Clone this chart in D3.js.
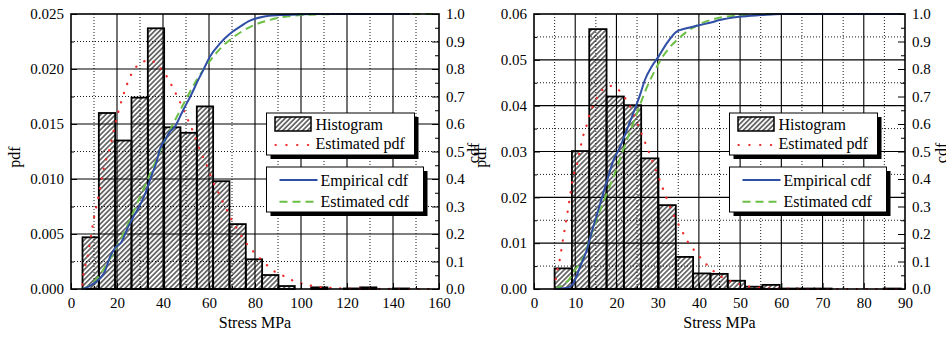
<!DOCTYPE html>
<html><head><meta charset="utf-8">
<script src="https://cdn.jsdelivr.net/npm/d3@7"></script>
<style>
html,body{margin:0;padding:0;background:#fff;}
svg{display:block;}
svg text{font-family:"Liberation Serif","Times New Roman",serif !important;fill:#000;}
</style></head><body>
<svg id="chart" width="946" height="337"></svg>
<script>
// ---------- LEFT PANEL DATA ----------
const leftBinEdges = [5, 12.1, 19.2, 26.3, 33.4, 40.5, 47.6, 54.7, 61.8, 68.9, 76, 83.1, 90.2, 97.3, 104.4, 111.5, 118.6, 125.7, 132.8, 139.9, 147.0, 154.1];
const leftHistPdf = [0.0047, 0.0160, 0.0135, 0.0174, 0.0237, 0.0147, 0.0142, 0.0166, 0.0098, 0.0059, 0.0027, 0.00127, 0.00027, 0, 0.00015, 0, 0.00005, 0.00015, 0, 0.00005, 0];
const leftPdfX = [5, 5.2, 7.1, 8.6, 10.1, 11.9, 14.5, 17, 19.1, 22.7, 26.4, 30, 34.3, 38.7, 42, 44.5, 46.7, 50.6, 52.5, 56.1, 59.7, 61.4, 63.6, 65.8, 68, 70.1, 72.7, 75.7, 79.3, 83.6, 87.7, 92.3, 96.7, 101, 105.4, 110, 120, 130, 140, 150, 160];
const leftPdfY = [0.0004, 0.0010, 0.0028, 0.0047, 0.0066, 0.0084, 0.0112, 0.0129, 0.0149, 0.0176, 0.0196, 0.0205, 0.0208, 0.0201, 0.0192, 0.0182, 0.0173, 0.0155, 0.0146, 0.0126, 0.0109, 0.0099, 0.0090, 0.0080, 0.0071, 0.0062, 0.0053, 0.0043, 0.0034, 0.0025, 0.0017, 0.0012, 0.00075, 0.00045, 0.00027, 0.00015, 0.00005, 0.00002, 0.00001, 0, 0];
const leftEcdfX = [5, 8.3, 12.6, 14.5, 17, 19.1, 22, 24.9, 27.1, 30, 32.9, 35.1, 37.3, 38.7, 40.9, 43, 45.2, 47.4, 48.8, 52.5, 55, 57.5, 60.4, 64.8, 69.1, 73.5, 77.8, 83.6, 90.9, 100, 105, 147.4];
const leftEcdfY = [0, 0.011, 0.039, 0.06, 0.117, 0.148, 0.172, 0.227, 0.263, 0.305, 0.36, 0.415, 0.465, 0.51, 0.542, 0.572, 0.59, 0.627, 0.651, 0.71, 0.755, 0.796, 0.845, 0.893, 0.928, 0.954, 0.976, 0.99, 0.996, 0.999, 1.0, 1.0];
const leftCdfX = [5, 8, 11, 14, 17, 20, 25, 30, 35, 40, 45, 50, 55, 60, 65, 70, 75, 80, 85, 90, 95, 100, 110, 120, 160];
const leftCdfY = [0, 0.012, 0.035, 0.07, 0.11, 0.155, 0.24, 0.335, 0.43, 0.525, 0.61, 0.69, 0.765, 0.825, 0.875, 0.912, 0.94, 0.961, 0.975, 0.986, 0.992, 0.996, 0.999, 1.0, 1.0];
const leftXTicks = [0, 20, 40, 60, 80, 100, 120, 140, 160];
const leftYTicks = [0, 0.005, 0.010, 0.015, 0.020, 0.025];

// ---------- RIGHT PANEL DATA ----------
const rightBinEdges = [5, 9.2, 13.4, 17.6, 21.8, 26, 30.2, 34.4, 38.6, 42.8, 47, 51.2, 55.4, 59.6, 63.8, 68, 72.2, 76.4, 80.6, 84.8, 89];
const rightHistPdf = [0.0045, 0.0301, 0.0567, 0.0420, 0.0401, 0.0285, 0.0183, 0.0070, 0.0034, 0.0033, 0.0018, 0.0005, 0.0009, 0.0001, 0.0001, 0.0001, 0, 0, 0, 0.0001];
const rightPdfX = [5, 5.3, 6.3, 7.1, 7.9, 8.7, 9.5, 10.3, 11.4, 12, 12.8, 13.4, 14.4, 15.6, 17.6, 18.8, 20.3, 22, 23.7, 25.7, 27.7, 29.6, 31.5, 33.5, 34.7, 36, 37.3, 39.2, 41.2, 43.7, 46.2, 48.6, 51, 53.4, 56, 60, 70, 80, 90];
const rightPdfY = [0, 0.0023, 0.0067, 0.0112, 0.0154, 0.0200, 0.0245, 0.0267, 0.0314, 0.0336, 0.0358, 0.0380, 0.0401, 0.0423, 0.0441, 0.0443, 0.0436, 0.0418, 0.0391, 0.0347, 0.0303, 0.0258, 0.0214, 0.0169, 0.0147, 0.0125, 0.0103, 0.0081, 0.0060, 0.0038, 0.0023, 0.0014, 0.0007, 0.0004, 0.0002, 0.0001, 0, 0, 0];
const rightEcdfX = [5, 8.3, 9.5, 11.2, 12.8, 14.4, 15.6, 16.8, 18, 19.2, 20.9, 22.5, 24.1, 25.7, 26.9, 28.6, 30.2, 32.2, 34.6, 37, 40.3, 42.7, 45, 49.8, 55, 60, 89.3];
const rightEcdfY = [0, 0.006, 0.02, 0.081, 0.142, 0.227, 0.287, 0.348, 0.408, 0.465, 0.517, 0.578, 0.64, 0.705, 0.76, 0.81, 0.845, 0.893, 0.936, 0.948, 0.96, 0.968, 0.978, 0.99, 0.996, 1.0, 1.0];
const rightCdfX = [5, 7, 8.7, 10, 12, 13.6, 15, 16.4, 18, 19.6, 21, 23, 25, 27, 29, 31, 33, 35, 37, 40, 43, 46, 50, 55, 60, 90];
const rightCdfY = [0, 0.015, 0.039, 0.07, 0.117, 0.184, 0.245, 0.3, 0.36, 0.42, 0.48, 0.56, 0.64, 0.72, 0.785, 0.84, 0.88, 0.91, 0.935, 0.962, 0.979, 0.989, 0.995, 0.998, 1.0, 1.0];
const rightXTicks = [0, 10, 20, 30, 40, 50, 60, 70, 80, 90];
const rightYTicks = [0, 0.01, 0.02, 0.03, 0.04, 0.05, 0.06];

const cdfTicks = [0, 0.1, 0.2, 0.3, 0.4, 0.5, 0.6, 0.7, 0.8, 0.9, 1.0];
const xTitle = "Stress MPa";
const pdfTitle = "pdf";
const cdfTitle = "cdf";
const legendLabels = ["Histogram", "Estimated pdf", "Empirical cdf", "Estimated cdf"];

const COL_RED = "#ee2a2a", COL_BLUE = "#2f4ea6", COL_GREEN = "#6cbf45";
const FONT = "'Liberation Serif', 'Times New Roman', serif";

const svg = d3.select("#chart");
svg.append("rect").attr("width", 946).attr("height", 337).attr("fill", "#fff");
const defs = svg.append("defs");
const pat = defs.append("pattern").attr("id", "hatch")
  .attr("patternUnits", "userSpaceOnUse").attr("width", 3.5).attr("height", 10)
  .attr("patternTransform", "rotate(45)");
pat.append("line").attr("x1", 1.75).attr("y1", 0).attr("x2", 1.75).attr("y2", 10)
  .attr("stroke", "#000").attr("stroke-width", 1.05);

function midpoints(arr) { return d3.pairs(arr).map(([a, b]) => (a + b) / 2); }

function drawPanel(c) {
  const g = svg.append("g");
  const x = d3.scaleLinear().domain([c.xTicks[0], c.xTicks[c.xTicks.length - 1]]).range([c.L, c.R]);
  const y = d3.scaleLinear().domain([c.yTicks[0], c.yTicks[c.yTicks.length - 1]]).range([c.B, c.T]);
  const yc = d3.scaleLinear().domain([0, 1]).range([c.B, c.T]);

  // grid
  const grid = g.append("g");
  const xMajor = c.xTicks.slice(1, -1), xMinor = midpoints(c.xTicks);
  const yMajor = c.yTicks.slice(1, -1), yMinor = midpoints(c.yTicks);
  grid.selectAll(".vmin").data(xMinor).join("line")
    .attr("x1", d => x(d)).attr("x2", d => x(d)).attr("y1", c.T).attr("y2", c.B)
    .attr("stroke", "#000").attr("stroke-width", 0.9).attr("stroke-dasharray", "1,2");
  grid.selectAll(".hmin").data(yMinor).join("line")
    .attr("y1", d => y(d)).attr("y2", d => y(d)).attr("x1", c.L).attr("x2", c.R)
    .attr("stroke", "#000").attr("stroke-width", 0.9).attr("stroke-dasharray", "1,2");
  grid.selectAll(".vmaj").data(xMajor).join("line")
    .attr("x1", d => x(d)).attr("x2", d => x(d)).attr("y1", c.T).attr("y2", c.B)
    .attr("stroke", "#000").attr("stroke-width", 1.1);
  grid.selectAll(".hmaj").data(yMajor).join("line")
    .attr("y1", d => y(d)).attr("y2", d => y(d)).attr("x1", c.L).attr("x2", c.R)
    .attr("stroke", "#000").attr("stroke-width", 1.1);

  // histogram bars
  g.append("g").selectAll("rect").data(c.hist).join("rect")
    .attr("x", (d, i) => x(c.edges[i]))
    .attr("width", (d, i) => x(c.edges[i + 1]) - x(c.edges[i]))
    .attr("y", d => y(d))
    .attr("height", d => y(0) - y(d))
    .attr("fill", "url(#hatch)").attr("stroke", "#000").attr("stroke-width", 1.8);

  const lineXY = (xs, ys, sy) => d3.line().curve(d3.curveMonotoneX)
    .x((d, i) => x(xs[i])).y((d, i) => sy(ys[i]))(xs);

  g.append("path").attr("d", lineXY(c.pdfX, c.pdfY, y))
    .attr("fill", "none").attr("stroke", COL_RED).attr("stroke-width", 2.2)
    .attr("stroke-linecap", "round").attr("stroke-dasharray", "0.3,9.5");
  g.append("path").attr("d", lineXY(c.cdfX, c.cdfY, yc))
    .attr("fill", "none").attr("stroke", COL_GREEN).attr("stroke-width", 2)
    .attr("stroke-dasharray", "8,5");
  g.append("path").attr("d", lineXY(c.ecdfX, c.ecdfY, yc))
    .attr("fill", "none").attr("stroke", COL_BLUE).attr("stroke-width", 2);

  // axes
  const ax = g.append("g").attr("transform", `translate(0,${c.B})`)
    .call(d3.axisBottom(x).tickValues(c.xTicks).tickSize(-6).tickSizeOuter(0).tickPadding(8).tickFormat(d3.format("d")));
  ax.append("g").call(d3.axisBottom(x).tickValues(xMinor).tickSize(-3).tickSizeOuter(0).tickFormat(""));
  const ay = g.append("g").attr("transform", `translate(${c.L},0)`)
    .call(d3.axisLeft(y).tickValues(c.yTicks).tickSize(-6).tickSizeOuter(0).tickPadding(7).tickFormat(d3.format(c.yFmt)));
  ay.append("g").call(d3.axisLeft(y).tickValues(yMinor).tickSize(-3).tickSizeOuter(0).tickFormat(""));
  const ar = g.append("g").attr("transform", `translate(${c.R},0)`)
    .call(d3.axisRight(yc).tickValues(cdfTicks).tickSize(-7).tickSizeOuter(0).tickPadding(7).tickFormat(d3.format(".1f")));
  ar.append("g").call(d3.axisRight(yc).tickValues(midpoints(cdfTicks)).tickSize(-4).tickSizeOuter(0).tickFormat(""));
  [ax, ay, ar].forEach(a => {
    a.attr("font-family", FONT).attr("font-size", 15);
    a.selectAll("text").style("font-family", FONT).style("font-size", "15px").attr("fill", "#000");
    a.selectAll("line").attr("stroke", "#000").attr("stroke-width", 1);
    a.selectAll(".domain").remove();
  });

  // frame
  g.append("rect").attr("x", c.L).attr("y", c.T).attr("width", c.R - c.L).attr("height", c.B - c.T)
    .attr("fill", "none").attr("stroke", "#000").attr("stroke-width", 1.6);

  const txt = (sel) => sel.style("font-family", FONT).style("font-size", "16px");
  // titles
  txt(g.append("text").attr("x", (c.L + c.R) / 2).attr("y", 328).attr("text-anchor", "middle").text(xTitle));
  txt(g.append("text").attr("transform", `translate(${c.L + c.pdfDx},157) rotate(-90)`).attr("text-anchor", "middle").text(pdfTitle));
  txt(g.append("text").attr("transform", `translate(${c.R + c.cdfDx},153) rotate(-90)`).attr("text-anchor", "middle").text(cdfTitle));

  // legends
  const lx = c.L + 195.5;
  function box(bx, by, w, h) {
    const lg = g.append("g");
    lg.append("rect").attr("x", bx + 4).attr("y", by + 4).attr("width", w).attr("height", h).attr("fill", "#000");
    lg.append("rect").attr("x", bx).attr("y", by).attr("width", w).attr("height", h)
      .attr("fill", "#fff").attr("stroke", "#000").attr("stroke-width", 1);
    return lg;
  }
  const l1 = box(lx, 113, 148, 42);
  l1.append("rect").attr("x", lx + 8.5).attr("y", 117).attr("width", 36).attr("height", 14)
    .attr("fill", "url(#hatch)").attr("stroke", "#000").attr("stroke-width", 1.5);
  txt(l1.append("text").attr("x", lx + 49).attr("y", 130).text(legendLabels[0]));
  l1.append("line").attr("x1", lx + 9).attr("x2", lx + 42).attr("y1", 145).attr("y2", 145)
    .attr("stroke", COL_RED).attr("stroke-width", 2.2).attr("stroke-linecap", "round").attr("stroke-dasharray", "0.3,10.5");
  txt(l1.append("text").attr("x", lx + 49).attr("y", 148.5).text(legendLabels[1]));

  const l2 = box(lx, 167, 157, 45);
  l2.append("line").attr("x1", lx + 13).attr("x2", lx + 51).attr("y1", 180).attr("y2", 180)
    .attr("stroke", COL_BLUE).attr("stroke-width", 2);
  txt(l2.append("text").attr("x", lx + 54).attr("y", 185.6).text(legendLabels[2]));
  l2.append("line").attr("x1", lx + 13).attr("x2", lx + 51).attr("y1", 201.7).attr("y2", 201.7)
    .attr("stroke", COL_GREEN).attr("stroke-width", 2).attr("stroke-dasharray", "8,5");
  txt(l2.append("text").attr("x", lx + 54).attr("y", 206.5).text(legendLabels[3]));
}

drawPanel({
  L: 71, R: 439, T: 14, B: 289,
  xTicks: leftXTicks, yTicks: leftYTicks, yFmt: ".3f",
  edges: leftBinEdges, hist: leftHistPdf,
  pdfX: leftPdfX, pdfY: leftPdfY, ecdfX: leftEcdfX, ecdfY: leftEcdfY, cdfX: leftCdfX, cdfY: leftCdfY,
  pdfDx: -51.5, cdfDx: 40
});
drawPanel({
  L: 534, R: 905, T: 14, B: 289,
  xTicks: rightXTicks, yTicks: rightYTicks, yFmt: ".2f",
  edges: rightBinEdges, hist: rightHistPdf,
  pdfX: rightPdfX, pdfY: rightPdfY, ecdfX: rightEcdfX, ecdfY: rightEcdfY, cdfX: rightCdfX, cdfY: rightCdfY,
  pdfDx: -48, cdfDx: 42
});
</script></body></html>
